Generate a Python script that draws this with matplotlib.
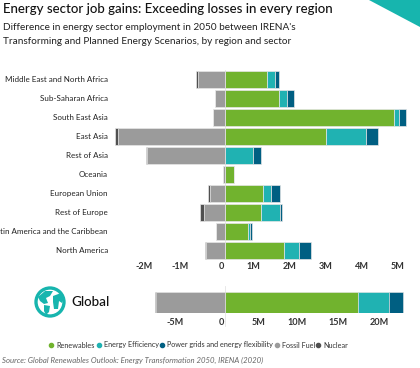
import matplotlib
matplotlib.use('Agg')
import matplotlib.pyplot as plt
from matplotlib.patches import Circle, Polygon

plt.rcParams['font.family'] = ['Lato', 'DejaVu Sans']

W, H = 420, 368

regions = ['Middle East and North Africa', 'Sub-Saharan Africa', 'South East Asia', 'East Asia',
           'Rest of Asia', 'Oceania', 'European Union', 'Rest of Europe',
           'Latin America and the Caribbean', 'North America']
renewables = [1.18, 1.51, 4.71, 2.82, 0.0, 0.25, 1.07, 1.02, 0.65, 1.64]
efficiency = [0.21, 0.22, 0.14, 1.11, 0.79, 0.0, 0.22, 0.51, 0.07, 0.44]
grids = [0.13, 0.19, 0.20, 0.34, 0.21, 0.02, 0.25, 0.06, 0.05, 0.33]
fossil = [-0.75, -0.26, -0.33, -2.97, -2.15, -0.05, -0.39, -0.56, -0.25, -0.51]
nuclear = [-0.04, 0.0, 0.0, -0.07, -0.02, 0.0, -0.06, -0.11, 0.0, -0.03]

global_values = [16.3, 3.7, 1.75]
global_fossil = -8.3
global_nuclear = -0.2

main_ticks = [-2, -1, 0, 1, 2, 3, 4, 5]
main_labels = ['-2M', '-1M', '0', '1M', '2M', '3M', '4M', '5M']
global_ticks = [-5, 0, 5, 10, 15, 20]
global_labels = ['-5M', '0', '5M', '10M', '15M', '20M']

legend_names = ['Renewables', 'Energy Efficiency', 'Power grids and energy flexibility', 'Fossil Fuel', 'Nuclear']
legend_x = [51, 98.7, 162, 277, 318]

GREEN, TEAL, BLUE, GREY, DARK = '#71b32e', '#20b2b2', '#005f82', '#9b9b9b', '#505050'
TEXT = '#222222'

fig = plt.figure(figsize=(W / 100, H / 100), dpi=100, facecolor='white')


def px_axes(left, top, right, bottom):
    return fig.add_axes([left / W, 1 - bottom / H, (right - left) / W, (bottom - top) / H])


# whole figure overlay in pixel coordinates, for the title, legend and icon
bg = fig.add_axes([0, 0, 1, 1])
bg.set_xlim(0, W)
bg.set_ylim(H, 0)
bg.axis('off')
bg.add_patch(Polygon([(369, 0), (420, 0), (420, 27)], color='#17b5ae', lw=0))

bg.text(3, 9, 'Energy sector job gains: Exceeding losses in every region', fontsize=9.5,
        fontweight='medium', color='#111111', va='center')
bg.text(3, 28, "Difference in energy sector employment in 2050 between IRENA's", fontsize=7.2,
        color=TEXT, va='center')
bg.text(3, 41, 'Transforming and Planned Energy Scenarios, by region and sector', fontsize=7.2,
        color=TEXT, va='center')

# regional bars: 36 px per million, zero at x=224.5
ax = px_axes(110, 69.8, 420, 259.8)
ax.set_xlim((110 - 224.5) / 36, (420 - 224.5) / 36)
ax.set_ylim(len(regions) - 0.5, -0.5)
ax.patch.set_alpha(0)
y = list(range(len(regions)))
edge = dict(height=0.92, edgecolor='#e6e6e6', linewidth=0.5)
left = [0.0] * len(regions)
for vals, col in [(renewables, GREEN), (efficiency, TEAL), (grids, BLUE)]:
    ax.barh(y, vals, left=left, color=col, **edge)
    left = [a + b for a, b in zip(left, vals)]
ax.barh(y, fossil, color=GREY, **edge)
ax.barh(y, nuclear, left=fossil, color=DARK, **edge)
ax.axvline(0, color='#e4e4e4', lw=0.6, ymax=1, zorder=0)
for s in ax.spines.values():
    s.set_visible(False)
ax.set_yticks(y)
ax.set_yticklabels(regions, fontsize=5.8, color=TEXT)
ax.set_xticks(main_ticks)
ax.set_xticklabels(main_labels, fontsize=6.6, fontweight='bold', color='#333333', ha='right')
ax.tick_params(length=0)
ax.tick_params(axis='y', pad=1.5)
ax.tick_params(axis='x', pad=1.5)

# global bar: 8.22 px per million
gx = px_axes(110, 292.3, 420, 313.3)
gx.set_xlim((110 - 224.5) / 8.22, (420 - 224.5) / 8.22)
gx.set_ylim(-0.5, 0.5)
gx.patch.set_alpha(0)
left_g = 0.0
for val, col in zip(global_values, [GREEN, TEAL, BLUE]):
    gx.barh([0], [val], left=left_g, color=col, height=1, edgecolor='#e6e6e6', linewidth=0.4)
    left_g += val
gx.barh([0], [global_fossil], color=GREY, height=1, edgecolor='#e6e6e6', linewidth=0.4)
gx.barh([0], [global_nuclear], left=global_fossil, color=DARK, height=1, edgecolor='#e6e6e6', linewidth=0.4)
for s in gx.spines.values():
    s.set_visible(False)
gx.set_yticks([])
gx.set_xticks(global_ticks)
gx.set_xticklabels(global_labels, fontsize=6.6, fontweight='bold', color='#333333', ha='right')
gx.tick_params(length=0, pad=3.5)
bg.plot([224.5, 224.5], [286, 326], color='#e4e4e4', lw=0.6)

# globe icon
bg.add_patch(Circle((50, 302), 14, fc='white', ec='#17b5ae', lw=2.4))
bg.add_patch(Polygon([(38, 297), (45, 291), (53, 291), (50, 296), (46, 298), (48, 303), (44, 304), (40, 301)],
                     color='#17b5ae', lw=0))
bg.add_patch(Polygon([(44, 305), (50, 306), (49, 312), (46, 315), (44, 311)], color='#17b5ae', lw=0))
bg.add_patch(Polygon([(53, 296), (61, 293), (64, 298), (62, 303), (59, 301), (58, 309), (54, 309), (53, 302)],
                     color='#17b5ae', lw=0))
bg.text(71.5, 302, 'Global', fontsize=9.6, fontweight='medium', color='#111111', va='center')

# legend
for name, x0, col in zip(legend_names, legend_x, [GREEN, TEAL, BLUE, GREY, DARK]):
    bg.plot([x0], [345], 'o', color=col, ms=3)
    bg.text(x0 + 5, 345, name, fontsize=5.25, color='#333333', va='center')

bg.text(2, 360, 'Source: Global Renewables Outlook: Energy Transformation 2050, IRENA (2020)',
        fontsize=5.6, style='italic', color='#666666', va='center')

fig.savefig('out.png', dpi=100)
